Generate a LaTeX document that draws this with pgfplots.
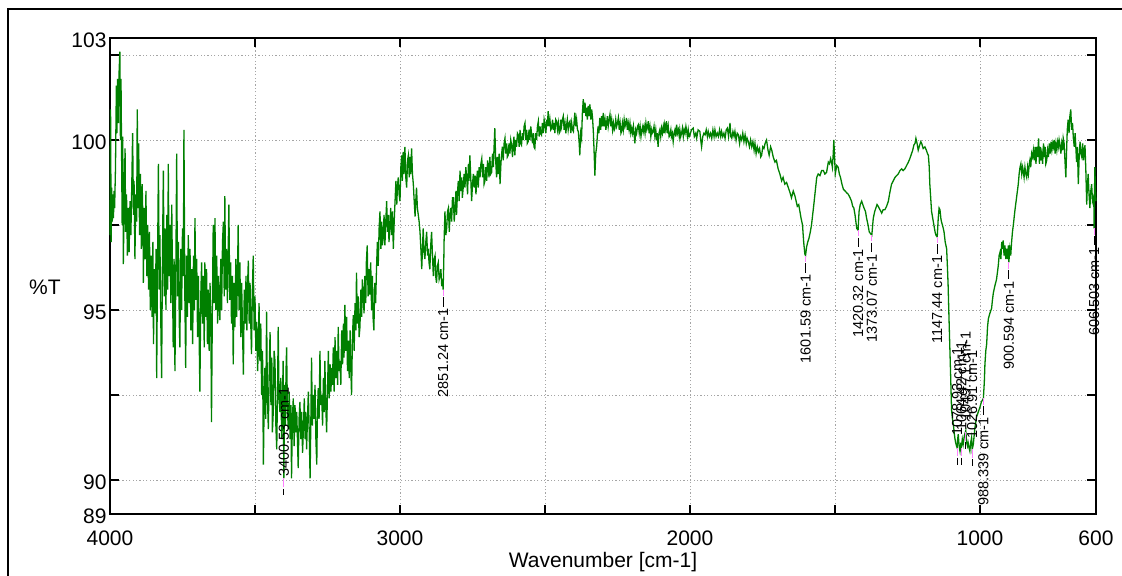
\documentclass[border=0pt]{standalone}
\usepackage{pgfplots}
\pgfplotsset{compat=1.18}
\usepackage{fontspec}
\setmainfont{Liberation Sans}
\definecolor{specgreen}{RGB}{0,128,0}
\definecolor{peakpink}{RGB}{255,128,255}
\definecolor{gridgray}{RGB}{165,165,165}
\newcommand{\tickfont}{\fontsize{21bp}{24bp}\selectfont}
\newcommand{\peakfont}{\fontsize{14.5bp}{16bp}\selectfont}

\begin{document}
\begin{tikzpicture}
\begin{axis}[
  at={(110bp,62bp)}, anchor=south west,
  width=986bp, height=476bp, scale only axis,
  x dir=reverse, xmin=600, xmax=4000, ymin=89, ymax=103,
  xtick={4000,3500,3000,2500,2000,1500,1000,600},
  xticklabels={4000,{},3000,{},2000,{},1000,600},
  ytick={89,90,92.5,95,97.5,100,102.5,103},
  yticklabels={89,90,{},95,{},100,{},103},
  grid=major,
  major grid style={gridgray, dash pattern=on 1.2bp off 2.2bp, line width=0.8bp},
  tick align=inside, major tick length=9bp,
  every tick/.style={black, line width=1.2bp},
  axis line style={black, line width=1.2bp},
  ticklabel style={font=\tickfont},
  xticklabel style={yshift=-13bp},
  yticklabel style={yshift=-2bp},
  xlabel={Wavenumber [cm-1]}, ylabel={\%T},
  every axis x label/.style={at={(axis description cs:0.5,-0.1134)}, anchor=base, font=\tickfont},
  every axis y label/.style={at={(axis description cs:-0.066,0.462)}, anchor=base, font=\tickfont},
  clip=false,
  unbounded coords=jump,
]

% spectrum
\addplot[specgreen, line width=1.3bp] coordinates {
(4000,97.2) (3998,100.9) (3996,97.0) (3994,98.6) (3992,97.6) (3990,98.4) (3988,97.7) (3986,98.5)
(3984,98.0) (3981,99.2) (3978,101.6) (3976,100.2) (3974,101.8) (3971,100.5) (3969,101.9) (3966,102.6)
(3964,100.0) (3962,101.8) (3960,99.6) (3958,97.5) (3956,100.1) (3954,96.35) (3951,98.3) (3948,99.75)
(3946,97.3) (3943,98.4) (3940,96.6) (3937,98.0) (3934,96.7) (3931,98.2) (3928,97.2) (3925,98.6)
(3922,100.2) (3919,97.8) (3917,98.8) (3914,96.5) (3911,98.4) (3908,97.6) (3906,100.9) (3903,98.0)
(3901,99.9) (3898,97.2) (3895,99.0) (3892,96.8) (3889,98.7) (3886,97.4) (3885,95.8) (3882,98.0)
(3879,96.5) (3876,98.5) (3873,96.0) (3870,97.5) (3867,95.6) (3864,97.3) (3861,95.0) (3858,96.6)
(3855,94.8) (3852,97.0) (3850,94.0) (3847,96.2) (3844,94.9) (3841,96.8) (3839,93.0) (3836,96.4)
(3833,99.3) (3830,95.6) (3828,97.2) (3825,94.8) (3822,93.0) (3819,96.6) (3816,99.1) (3813,95.4)
(3810,97.4) (3807,95.0) (3804,97.8) (3801,95.6) (3799,99.3) (3796,96.0) (3793,97.5) (3790,95.2)
(3787,98.1) (3784,95.5) (3782,93.9) (3779,96.5) (3776,93.2) (3773,96.0) (3770,99.6) (3767,95.4)
(3764,97.0) (3761,94.6) (3759,93.9) (3756,96.8) (3753,95.0) (3750,97.4) (3747,96.0) (3745,100.3)
(3742,95.5) (3739,93.3) (3736,96.6) (3733,94.8) (3730,97.2) (3727,95.2) (3724,96.8) (3721,94.4)
(3718,96.2) (3715,94.0) (3712,96.6) (3709,95.0) (3707,97.7) (3704,95.3) (3701,96.5) (3698,94.2)
(3695,96.0) (3693,94.5) (3690,92.6) (3687,95.4) (3684,96.4) (3681,94.6) (3678,96.0) (3675,93.9)
(3673,96.4) (3670,94.8) (3667,96.2) (3664,94.0) (3661,95.6) (3658,93.8) (3655,95.8) (3652,94.4)
(3650,91.7) (3647,95.0) (3644,97.5) (3641,95.2) (3638,97.7) (3635,95.0) (3632,96.6) (3629,94.6)
(3626,96.0) (3623,95.0) (3621,94.7) (3618,96.5) (3615,95.0) (3612,97.0) (3609,97.6) (3606,95.4)
(3604,98.35) (3601,95.6) (3598,96.8) (3595,95.2) (3592,97.0) (3590,98.1) (3587,95.3) (3584,96.4)
(3581,94.6) (3578,96.0) (3575,93.4) (3572,95.8) (3569,94.5) (3566,96.5) (3563,94.8) (3560,96.2)
(3558,97.5) (3555,95.0) (3552,96.4) (3549,94.2) (3546,95.8) (3543,94.4) (3540,93.1) (3537,95.6)
(3534,94.6) (3531,96.0) (3528,94.4) (3526,95.6) (3523,96.45) (3520,94.6) (3517,95.8) (3514,94.4)
(3512,93.7) (3509,95.6) (3506,96.6) (3503,94.4) (3500,95.4) (3497,93.8) (3494,94.65) (3491,93.2)
(3489,93.7) (3486,95.2) (3483,93.5) (3480,94.6) (3477,92.5) (3474,93.8) (3471,90.45) (3468,92.6)
(3466,93.3) (3463,91.8) (3460,94.95) (3457,92.4) (3454,91.5) (3451,93.2) (3448,94.35) (3445,92.2)
(3442,93.6) (3440,91.4) (3437,92.0) (3434,93.8) (3431,93.5) (3428,91.6) (3425,90.9) (3422,92.8)
(3420,94.5) (3417,92.4) (3414,92.0) (3411,93.0) (3408,91.2) (3405,92.4) (3403,93.5) (3400.5,90.05)
(3398,92.8) (3395,91.6) (3393,93.2) (3391,93.9) (3388,92.0) (3385,91.5) (3382,92.6) (3379,91.2)
(3376,92.2) (3374,90.05) (3371,91.8) (3368,92.4) (3365,91.0) (3362,92.2) (3359,91.4) (3356,92.0)
(3353,91.0) (3351,90.35) (3348,91.8) (3345,92.3) (3342,91.2) (3339,92.0) (3336,90.8) (3333,91.5)
(3330,92.4) (3327,91.2) (3325,92.0) (3322,90.9) (3319,91.8) (3316,92.6) (3313,91.4) (3310,90.05)
(3307,92.0) (3305,93.6) (3302,91.6) (3299,92.5) (3296,91.8) (3293,92.8) (3290,91.2) (3287,90.45)
(3285,91.8) (3282,92.7) (3279,91.8) (3276,93.8) (3273,92.2) (3270,92.5) (3267,91.6) (3264,93.0)
(3261,92.0) (3259,93.5) (3256,92.2) (3253,91.4) (3250,92.6) (3247,93.8) (3244,92.4) (3241,93.4)
(3238,92.6) (3236,93.3) (3233,92.8) (3230,93.9) (3227,92.6) (3224,94.2) (3221,93.0) (3218,93.8)
(3215,92.8) (3213,94.5) (3210,93.2) (3207,93.5) (3204,92.8) (3201,94.4) (3198,93.4) (3195,94.6)
(3193,93.6) (3190,95.15) (3187,93.8) (3184,94.8) (3181,93.2) (3178,94.1) (3175,93.0) (3172,94.4)
(3170,93.4) (3167,92.5) (3164,94.2) (3161,94.85) (3158,93.8) (3155,95.2) (3152,94.4) (3150,96.1)
(3147,94.6) (3144,95.4) (3141,94.2) (3138,94.5) (3135,95.6) (3132,94.8) (3130,95.9) (3127,95.6)
(3124,94.9) (3121,96.0) (3118,95.2) (3116,96.4) (3113,96.9) (3110,95.4) (3107,96.2) (3104,95.45)
(3101,96.4) (3098,95.0) (3095,96.0) (3093,94.8) (3090,94.4) (3087,95.8) (3084,95.2) (3081,96.2)
(3078,97.0) (3075,96.3) (3072,97.4) (3069,97.9) (3066,96.8) (3063,97.6) (3061,96.9) (3058,97.1)
(3055,97.8) (3052,96.9) (3049,97.6) (3046,98.2) (3043,97.3) (3040,97.8) (3038,97.0) (3035,97.4)
(3032,98.0) (3029,97.2) (3026,97.9) (3023,96.8) (3020,97.6) (3017,98.2) (3014,98.8) (3011,98.1)
(3009,98.6) (3006,98.9) (3003,98.4) (3000,98.2) (2997,99.2) (2994,99.55) (2992,98.8) (2989,99.65)
(2986,99.0) (2983,99.8) (2980,98.9) (2977,98.6) (2974,99.4) (2971,99.55) (2968,98.9) (2965,99.5)
(2963,99.0) (2960,99.75) (2957,99.0) (2954,98.7) (2951,98.2) (2948,97.75) (2945,98.3) (2943,98.6)
(2940,98.0) (2937,97.8) (2934,97.6) (2931,97.3) (2928,96.8) (2925,96.2) (2922,96.9) (2920,97.4)
(2917,96.7) (2914,96.5) (2911,97.0) (2908,97.3) (2905,96.6) (2902,96.8) (2900,96.4) (2897,96.2)
(2894,96.9) (2891,97.3) (2888,96.6) (2885,96.0) (2882,96.5) (2879,96.6) (2877,96.0) (2874,95.8)
(2871,96.3) (2868,96.4) (2865,95.9) (2862,96.0) (2859,96.2) (2856,95.7) (2853,95.9) (2851.24,95.6)
(2849,96.4) (2848,97.0) (2845,97.9) (2842,97.2) (2839,97.4) (2836,97.9) (2833,98.0) (2830,97.3)
(2828,97.7) (2825,98.0) (2822,97.6) (2819,98.3) (2816,98.3) (2813,97.6) (2810,98.0) (2807,98.5)
(2805,97.8) (2802,98.4) (2799,98.8) (2796,98.2) (2793,99.1) (2790,98.5) (2787,98.9) (2785,98.3)
(2782,98.6) (2779,99.0) (2776,98.6) (2773,99.2) (2770,98.9) (2767,98.4) (2764,99.3) (2762,98.8)
(2759,99.55) (2756,98.9) (2753,98.2) (2750,98.7) (2747,99.0) (2744,98.6) (2741,98.95) (2738,98.4)
(2735,98.9) (2733,99.1) (2730,98.6) (2727,99.2) (2724,98.9) (2721,99.3) (2718,99.45) (2715,98.9)
(2712,99.3) (2710,98.7) (2707,98.8) (2704,99.2) (2701,98.8) (2698,99.4) (2696,99.25) (2693,98.9)
(2690,99.5) (2687,99.0) (2684,99.05) (2681,99.6) (2678,99.2) (2676,99.7) (2673,100.35) (2670,99.4)
(2667,98.9) (2664,99.5) (2661,99.0) (2658,99.6) (2655,98.7) (2652,99.3) (2650,99.55) (2647,99.8)
(2644,99.4) (2641,99.9) (2638,100.05) (2635,99.6) (2632,99.9) (2630,99.5) (2627,99.55) (2624,99.9)
(2621,99.6) (2618,100.0) (2615,99.85) (2612,99.5) (2609,99.9) (2607,100.1) (2604,99.55) (2601,100.0)
(2598,99.8) (2595,100.2) (2592,100.15) (2589,99.8) (2586,100.3) (2584,99.9) (2581,99.85) (2578,100.2)
(2575,100.0) (2572,100.4) (2569,100.5) (2566,100.0) (2563,100.3) (2561,99.9) (2558,99.95) (2555,100.3)
(2552,100.0) (2549,100.4) (2546,100.15) (2543,99.9) (2540,100.2) (2538,99.8) (2535,99.75) (2532,100.2)
(2529,100.0) (2526,100.4) (2523,100.55) (2520,100.1) (2517,100.4) (2515,100.2) (2512,100.15) (2509,100.5)
(2506,100.2) (2503,100.6) (2500,100.45) (2497,100.2) (2494,100.6) (2492,100.4) (2489,100.85) (2486,100.4)
(2483,100.6) (2480,100.3) (2477,100.35) (2474,100.6) (2471,100.3) (2469,100.5) (2466,100.2) (2463,100.6)
(2460,100.55) (2457,100.3) (2454,100.5) (2451,100.2) (2448,100.25) (2446,100.6) (2443,100.4) (2440,100.6)
(2437,100.7) (2434,100.3) (2431,100.5) (2428,100.2) (2426,100.4) (2423,100.6) (2420,100.3) (2417,100.5)
(2414,100.55) (2411,100.2) (2408,100.5) (2405,100.3) (2402,100.25) (2399,100.6) (2397,100.8) (2394,100.4)
(2391,100.6) (2388,100.3) (2385,100.25) (2382,99.9) (2380,99.55) (2377,100.2) (2374,100.05) (2371,100.8)
(2368,101.2) (2365,100.8) (2362,101.1) (2359,100.7) (2357,100.95) (2354,100.6) (2351,101.0) (2348,100.7)
(2345,101.05) (2342,100.6) (2339,100.9) (2336,100.65) (2333,100.2) (2330,99.5) (2328,98.95) (2325,99.6)
(2322,99.8) (2320,100.05) (2317,100.4) (2314,100.2) (2311,100.65) (2308,100.3) (2305,100.7) (2302,100.4)
(2299,100.8) (2296,100.4) (2293,100.6) (2290,100.3) (2288,100.45) (2285,100.7) (2282,100.4) (2279,100.6)
(2276,100.75) (2273,100.4) (2270,100.6) (2267,100.3) (2264,100.5) (2261,100.3) (2259,100.35) (2256,100.6)
(2253,100.4) (2250,100.5) (2247,100.65) (2244,100.3) (2241,100.5) (2238,100.2) (2236,100.25) (2233,100.5)
(2230,100.3) (2227,100.6) (2224,100.4) (2221,100.5) (2219,100.65) (2216,100.3) (2213,100.5) (2210,100.3)
(2207,100.5) (2204,100.2) (2201,100.35) (2198,100.2) (2195,100.4) (2192,100.1) (2190,99.9) (2187,100.3)
(2184,100.2) (2181,100.4) (2178,100.45) (2175,100.2) (2172,100.4) (2169,100.1) (2166,100.3) (2163,100.4)
(2161,100.25) (2158,100.4) (2155,100.2) (2152,100.5) (2149,100.3) (2146,100.4) (2144,100.55) (2141,100.2)
(2138,100.4) (2135,100.1) (2132,100.3) (2130,100.2) (2127,100.25) (2124,100.4) (2121,100.1) (2118,100.3)
(2115,100.0) (2113,100.2) (2110,99.8) (2107,100.2) (2104,100.3) (2101,100.1) (2098,100.35) (2095,100.2)
(2092,100.4) (2089,100.2) (2087,100.45) (2084,100.3) (2081,100.55) (2078,100.2) (2075,100.4) (2072,100.1)
(2069,100.15) (2066,100.3) (2064,100.1) (2061,100.2) (2058,99.95) (2055,100.2) (2052,100.3) (2049,100.1)
(2046,100.45) (2043,100.2) (2040,100.3) (2037,100.1) (2035,100.3) (2032,100.1) (2029,100.2) (2026,100.35)
(2023,100.1) (2020,100.3) (2017,100.2) (2014,100.4) (2012,100.3) (2009,100.1) (2006,100.3) (2003,100.1)
(2000,100.15) (1995,100.3) (1989,100.35) (1985,100.1) (1980,100.2) (1977,100.05) (1972,100.3) (1966,100.25)
(1963,100.0) (1960,99.8) (1956,100.1) (1952,100.2) (1948,100.15) (1944,100.3) (1940,100.1) (1937,100.25)
(1933,100.1) (1929,100.2) (1925,100.05) (1921,100.3) (1917,100.1) (1914,100.3) (1910,100.1) (1906,100.2)
(1902,100.1) (1898,100.3) (1894,100.1) (1891,100.25) (1887,100.1) (1883,100.2) (1879,100.05) (1875,100.3)
(1871,100.35) (1867,100.1) (1862,100.5) (1859,100.1) (1856,100.05) (1852,100.25) (1848,100.1) (1845,100.25)
(1841,100.0) (1837,100.2) (1833,100.15) (1829,99.9) (1826,100.1) (1822,100.0) (1818,100.2) (1814,99.95)
(1810,100.15) (1806,99.9) (1803,100.05) (1799,99.95) (1795,99.8) (1791,100.0) (1787,99.8) (1783,99.95)
(1779,99.7) (1776,99.9) (1772,99.6) (1768,99.8) (1764,99.65) (1760,99.75) (1756,99.5) (1753,99.55)
(1749,99.8) (1745,99.75) (1741,99.9) (1736,100.0) (1731,99.7) (1727,99.55) (1722,99.8) (1718,99.7)
(1713,99.5) (1707,99.35) (1702,99.4) (1696,99.15) (1690,99.0) (1684,98.8) (1679,98.9) (1673,98.7)
(1667,98.75) (1661,98.6) (1655,98.45) (1650,98.3) (1644,98.5) (1638,98.35) (1634,98.2) (1630,98.05)
(1625,98.1) (1621,97.9) (1617,97.7) (1612,97.5) (1608,97.0) (1604,96.65) (1601.59,96.6) (1598,96.85)
(1594,97.0) (1590,97.1) (1585,97.3) (1581,97.5) (1577,97.8) (1573,98.1) (1568,98.5) (1563,98.9)
(1558,99.0) (1552,98.95) (1546,99.1) (1540,99.1) (1535,99.0) (1529,99.05) (1523,99.35) (1519,99.3)
(1515,99.45) (1511,99.3) (1509,99.2) (1506,99.6) (1504,100.0) (1501,99.4) (1499,99.0) (1494,99.25)
(1489,99.2) (1485,99.0) (1481,98.9) (1476,98.7) (1471,98.55) (1465,98.5) (1460,98.45) (1454,98.4)
(1448,98.3) (1443,98.2) (1439,98.05) (1435,98.0) (1431,97.8) (1428,97.6) (1425,97.4) (1420.32,97.35)
(1417,97.9) (1413,98.1) (1408,98.2) (1404,98.1) (1400,98.0) (1395,97.9) (1391,97.7) (1386,97.5)
(1382,97.3) (1378,97.25) (1373.07,97.2) (1371,97.4) (1368,97.7) (1363,97.9) (1359,98.0) (1355,98.1)
(1351,98.05) (1345,97.95) (1339,97.85) (1334,97.95) (1328,97.95) (1322,98.05) (1316,98.2) (1311,98.45)
(1305,98.7) (1299,98.8) (1293,98.9) (1288,98.95) (1282,99.0) (1276,99.1) (1270,99.15) (1265,99.1)
(1259,99.15) (1253,99.25) (1247,99.35) (1242,99.45) (1236,99.6) (1232,99.7) (1228,99.85) (1224,99.9)
(1221,100.05) (1217,99.9) (1213,99.7) (1208,99.85) (1204,99.95) (1201,99.9) (1196,99.75) (1190,99.8)
(1185,99.7) (1181,99.6) (1178,99.55) (1175,99.2) (1173,98.7) (1170,98.3) (1167,97.9) (1163,97.7)
(1159,97.5) (1155,97.3) (1152,97.2) (1147.44,97.15) (1144,97.7) (1141,98.0) (1138,97.95) (1135,97.7)
(1133,97.6) (1128,97.45) (1124,97.3) (1120,97.0) (1115,96.8) (1112,96.2) (1110,95.75) (1107,94.8)
(1104,93.9) (1101,93.0) (1098,92.05) (1095,91.8) (1092,91.65) (1089,91.4) (1087,91.25) (1084,91.1)
(1081,91.0) (1078.93,90.95) (1077,91.2) (1075,91.35) (1072,91.0) (1069,90.85) (1066,91.1) (1064.42,90.95)
(1061,91.2) (1058,91.05) (1054,91.3) (1049,91.45) (1046,91.1) (1043,91.0) (1041,91.1) (1038,90.95)
(1035,90.85) (1032,91.1) (1029,91.25) (1026.91,90.9) (1023,91.05) (1018,91.5) (1012,91.85) (1006,92.0)
(1000,92.15) (995,92.3) (988.339,92.4) (985,92.9) (983,93.4) (980,93.8) (977,94.0) (974,94.5)
(971,94.75) (966,94.9) (960,95.05) (957,95.3) (954,95.5) (949,95.7) (943,95.9) (940,96.1)
(937,96.3) (934,96.6) (931,96.7) (928,96.5) (925,97.0) (922,96.8) (920,97.05) (917,96.6)
(914,96.9) (911,96.5) (908,96.8) (905,96.5) (902,96.9) (900.594,96.4) (897,96.8) (894,96.6)
(891,97.0) (888,97.3) (885,97.5) (880,97.9) (874,98.3) (871,98.5) (868,98.7) (865,99.0)
(862,99.2) (859,99.3) (856,99.0) (853,99.2) (851,99.1) (848,98.9) (845,99.2) (842,99.0)
(839,98.9) (836,99.2) (833,99.0) (830,99.3) (828,99.4) (825,99.2) (822,99.6) (819,99.5)
(816,99.7) (813,99.4) (810,99.8) (807,99.3) (804,99.8) (801,99.5) (798,100.05) (795,99.3)
(792,99.8) (790,99.4) (787,99.6) (784,99.3) (781,99.9) (778,99.5) (775,99.8) (773,99.3)
(770,99.4) (767,99.7) (764,99.5) (761,99.9) (758,99.6) (755,99.95) (752,99.7) (749,99.9)
(747,99.8) (744,100.0) (741,99.6) (738,99.9) (735,99.7) (732,99.95) (729,99.8) (727,100.0)
(724,99.85) (721,99.6) (718,99.9) (715,99.7) (713,100.05) (710,99.9) (707,99.4) (704,98.9)
(701,99.8) (699,100.3) (696,100.6) (693,100.2) (690,100.7) (687,100.9) (684,100.3) (681,100.5)
(678,100.05) (675,99.8) (672,100.2) (669,99.7) (667,99.35) (664,99.8) (661,98.7) (658,99.5)
(655,99.95) (652,99.6) (649,99.5) (646,99.9) (643,99.4) (640,99.7) (638,99.85) (635,99.1)
(632,98.1) (630,98.6) (627,99.0) (624,98.4) (621,98.0) (618,98.5) (615,98.7) (612,98.2)
(609,98.3) (607,98.0) (606.503,97.4) (604,99.2) (602,98.6) (600,98.2)
};

% peak markers (pink) and dashes (black)
\addplot[peakpink, line width=1.2bp] coordinates {
(2851.24,95.6) (2851.24,95.42) (2851.24,nan)
(1601.59,96.6) (1601.59,96.42) (1601.59,nan)
(1420.32,97.35) (1420.32,97.17) (1420.32,nan)
(1373.07,97.2) (1373.07,97.02) (1373.07,nan)
(1147.44,97.15) (1147.44,96.97) (1147.44,nan)
(988.339,92.4) (988.339,92.22) (988.339,nan)
(900.594,96.4) (900.594,96.22) (900.594,nan)
(606.503,97.4) (606.503,97.22) (606.503,nan)
(3400.53,90.05) (3400.53,89.78) (3400.53,nan)
(1078.93,90.95) (1078.93,90.7) (1078.93,nan)
(1064.42,90.95) (1064.42,90.7) (1064.42,nan)
(1049.71,91.4) (1049.71,91.15) (1049.71,nan)
(1026.91,90.9) (1026.91,90.65)
};
\addplot[black, line width=1bp] coordinates {
(2851.24,95.38) (2851.24,95.1) (2851.24,nan)
(1601.59,96.38) (1601.59,96.1) (1601.59,nan)
(1420.32,97.13) (1420.32,96.85) (1420.32,nan)
(1373.07,96.98) (1373.07,96.7) (1373.07,nan)
(1147.44,96.93) (1147.44,96.65) (1147.44,nan)
(988.339,92.18) (988.339,91.9) (988.339,nan)
(900.594,96.18) (900.594,95.9) (900.594,nan)
(606.503,97.18) (606.503,96.9) (606.503,nan)
(3400.53,89.74) (3400.53,89.55) (3400.53,nan)
(1078.93,90.66) (1078.93,90.45) (1078.93,nan)
(1064.42,90.66) (1064.42,90.45) (1064.42,nan)
(1049.71,91.11) (1049.71,90.9) (1049.71,nan)
(1026.91,90.61) (1026.91,90.4)
};

% peak labels
\begin{scope}[every node/.style={font=\peakfont, inner sep=0pt, rotate=90}]
\node[anchor=east] at (axis cs:2851.24,95.05) {2851.24 cm-1};
\node[anchor=east] at (axis cs:1601.59,96.05) {1601.59 cm-1};
\node[anchor=east] at (axis cs:1420.32,96.8) {1420.32 cm-1};
\node[anchor=east] at (axis cs:1373.07,96.65) {1373.07 cm-1};
\node[anchor=east] at (axis cs:1147.44,96.6) {1147.44 cm-1};
\node[anchor=east] at (axis cs:988.339,91.85) {988.339 cm-1};
\node[anchor=east] at (axis cs:900.594,95.85) {900.594 cm-1};
\node[anchor=east] at (axis cs:606.503,96.85) {606.503 cm-1};
\node[anchor=west] at (axis cs:3400.53,90.1) {3400.53 cm-1};
\node[anchor=west] at (axis cs:1078.93,91.3) {1078.93 cm-1};
\node[anchor=west] at (axis cs:1064.42,91.45) {1064.42 cm-1};
\node[anchor=west] at (axis cs:1049.71,91.75) {1049.71 cm-1};
\node[anchor=west] at (axis cs:1026.91,91.2) {1026.91 cm-1};
\end{scope}

\end{axis}
% outer frame
\draw[black, line width=1.5bp] (8bp,-2bp) -- (8bp,567bp) -- (1124bp,567bp);
\pgfresetboundingbox
\path[use as bounding box] (0,0) rectangle (1122bp,576bp);
\end{tikzpicture}
\end{document}
